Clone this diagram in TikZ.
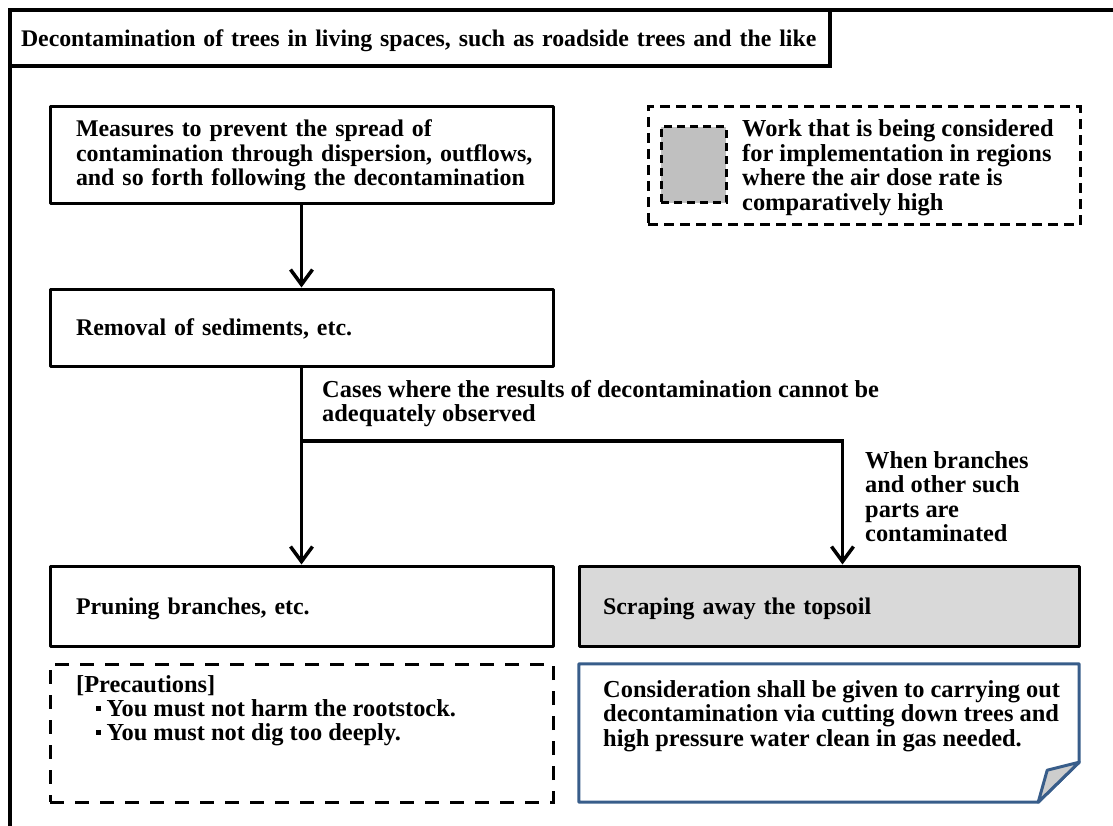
\documentclass[tikz,border=0pt]{standalone}
\usepackage{fontspec}
\setmainfont{Liberation Serif}
\usetikzlibrary{arrows.meta,calc}

\definecolor{noteblue}{HTML}{385D8A}
\definecolor{boxgray}{HTML}{D9D9D9}
\definecolor{swatchgray}{HTML}{C0C0C0}
\definecolor{foldgray}{HTML}{CDCDCD}
\newcommand{\sqbullet}{\rule[5.5pt]{4.5pt}{4.5pt}}

\begin{document}
\begin{tikzpicture}[x=1pt,y=-1pt,
  txt/.style={font=\fontsize{24.4}{24.5}\selectfont\bfseries},
  plain/.style={txt, inner sep=0pt, anchor=base west},
  stepbox/.style={draw, line width=3pt, line join=round,
    font=\fontsize{23.9}{24.5}\selectfont\bfseries, align=left,
    inner ysep=0pt, inner xsep=26pt, text width=451pt, minimum height=#1},
  oneline/.style={text height=18pt, text depth=2pt},
  areabox/.style={draw, line width=3pt, inner sep=0pt, minimum width=#1},
  flow/.style={line width=3.5pt, -{Straight Barb[length=15pt,width=22pt]}},
]
\useasboundingbox (0,0) rectangle (1113,826);

% outer frame, running off the page on the right and at the bottom
\begin{scope}
  \clip (0,0) rectangle (1113,826);
  \draw[line width=3.5pt] (10,850) -- (10,10) -- (1140,10);
\end{scope}

% heading
\node[draw, line width=3.5pt, fill=white, font=\fontsize{23.8}{24.5}\selectfont\bfseries,
  align=left, inner ysep=0pt, inner xsep=11pt, text width=798pt, minimum height=56pt,
  text height=20pt, text depth=2pt] (title) at (420,38)
  {\mbox{Decontamination of trees in living spaces, such as roadside trees and the like}};

% legend
\node[areabox=432pt, minimum height=118pt, dash pattern=on 10pt off 6pt] (legend) at (864,166) {};
\node[areabox=65pt, minimum height=76pt, fill=swatchgray, dash pattern=on 8pt off 5pt] (swatch) at (693.5,165) {};
\node[plain] (legendtext) at (742,137) {\parbox[t]{340pt}{Work that is being considered\\
  for implementation in regions\\ where the air dose rate is\\ comparatively high}};

% steps
\node[stepbox=97pt] (b1) at (301.5,155.5) {\mbox{Measures to prevent the spread of}\\
  \mbox{contamination through dispersion, outflows,}\\
  \mbox{and so forth following the decontamination}};
\node[stepbox=77pt, oneline] (b2) at (301.5,327.5) {\mbox{Removal of sediments, etc.}};
\node[stepbox=80pt, oneline] (b3) at (301.5,606) {\mbox{Pruning branches, etc.}};
\node[stepbox=80pt, oneline, fill=boxgray, text width=452pt, inner xsep=24pt] (b4) at (829,606)
  {\mbox{Scraping away the topsoil}};

% precautions
\node[areabox=503pt, minimum height=138pt, dash pattern=on 14pt off 11pt] (prec) at (301.5,733) {};
\node[plain] (prectext) at (76,692) {\parbox[t]{460pt}{\baselineskip=24pt [Precautions]\\
  \hspace*{20pt}\sqbullet\hspace{6pt}You must not harm the rootstock.\\
  \hspace*{20pt}\sqbullet\hspace{6pt}You must not dig too deeply.}};

% note with folded corner
\node[inner sep=0pt, minimum width=500pt, minimum height=138pt] (note) at (829,733) {};
\draw[noteblue, line width=3pt, line join=round, fill=white]
  (note.north west) -- (note.north east) -- ($(note.south east)+(0,-40)$)
  -- ($(note.south east)+(-41,0)$) -- (note.south west) -- cycle;
\draw[noteblue, line width=3pt, line join=round, fill=foldgray]
  ($(note.south east)+(0,-40)$) -- ($(note.south east)+(-32,-32)$)
  -- ($(note.south east)+(-41,0)$) -- cycle;
\node[plain] (notetext) at (603,697) {\parbox[t]{480pt}{Consideration shall be given to carrying out\\
  decontamination via cutting down trees and\\ high pressure water clean in gas needed.}};

% connectors
\draw[flow] (b1.south) -- (b2.north);
\draw[flow] (b2.south) -- (b3.north);
\coordinate (split) at (301.5,441);
\draw[flow] (split) -| ([xshift=13.5pt]b4.north);

% branch conditions
\node[plain] (caselabel) at (322,397) {\parbox[t]{620pt}{Cases where the results of decontamination cannot be\\
  adequately observed}};
\node[plain] (whenlabel) at (865,468) {\parbox[t]{220pt}{When branches\\ and other such\\ parts are\\ contaminated}};
\end{tikzpicture}
\end{document}
